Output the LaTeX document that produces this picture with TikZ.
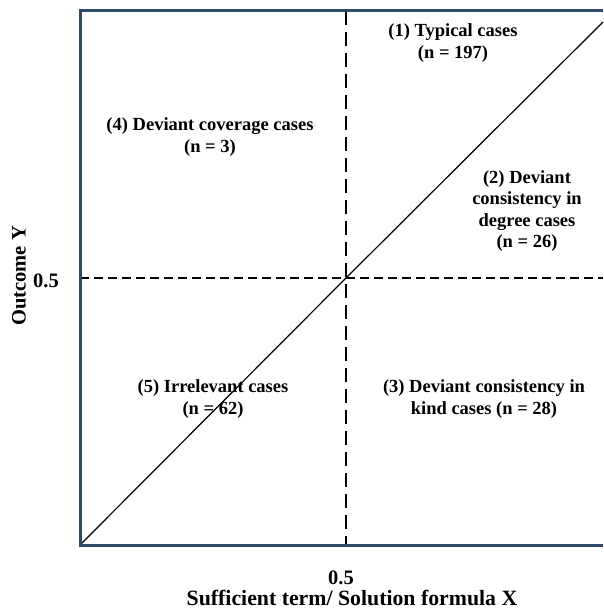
\documentclass[tikz,border=0pt]{standalone}
\usepackage{fontspec}
\setmainfont{Liberation Serif}
\usetikzlibrary{positioning}
\definecolor{qdFrame}{HTML}{2F4A68}
\tikzset{
  quadtext/.style={font=\fontsize{18.5}{21.5}\selectfont\bfseries, align=center, inner sep=0pt},
  axistext/.style={font=\fontsize{20.5}{23}\selectfont\bfseries, inner sep=0pt},
  cutline/.style={line width=2.7pt, dash pattern=on 9pt off 5pt},
  diagline/.style={line width=1.2pt},
  frameline/.style={draw=qdFrame, line width=3pt}
}
\begin{document}
\begin{tikzpicture}[x=1pt,y=-1pt]
  \useasboundingbox (0,0) rectangle (603,609);
  % frame corners and the 0.5 / 0.5 point
  \coordinate (tl) at (80,11);
  \coordinate (bl) at (80,545);
  \coordinate (tr) at (603,11);
  \coordinate (br) at (603,545);
  \coordinate (mid) at (346,278);
  \coordinate (diagend) at (603,22);
  % quadrant texts
  \node[quadtext] (typical) at (453,43) {(1) Typical cases\\(n = 197)};
  \node[quadtext] (coverage) at (210,137) {(4) Deviant coverage cases\\(n = 3)};
  \node[quadtext] (degree) at (527,211) {(2) Deviant\\consistency in\\degree cases\\(n = 26)};
  \node[quadtext] (irrelevant) at (213,399) {(5) Irrelevant cases\\(n = 62)};
  \node[quadtext] (kind) at (484,399) {(3) Deviant consistency in\\kind cases (n = 28)};
  % axes
  \node[axistext] (yhalf) at (46,281) {0.5};
  \node[axistext, rotate=90] (ylabel) at (19,276) {Outcome Y};
  \node[axistext] (xhalf) at (341,578) {0.5};
  \node[axistext, font=\fontsize{21.8}{24}\selectfont\bfseries] (xlabel) at (352,598) {Sufficient term/ Solution formula X};
  % lines
  \draw[diagline] (bl) -- (mid) -- (diagend);
  \draw[cutline] (tl |- mid) -- (mid) -- (br |- mid);
  \draw[cutline, dash pattern=on 14pt off 7pt] (mid |- tl) -- (mid) -- (mid |- bl);
  \draw[frameline] (tr) -- (tl) -- (bl) -- (br);
\end{tikzpicture}
\end{document}
